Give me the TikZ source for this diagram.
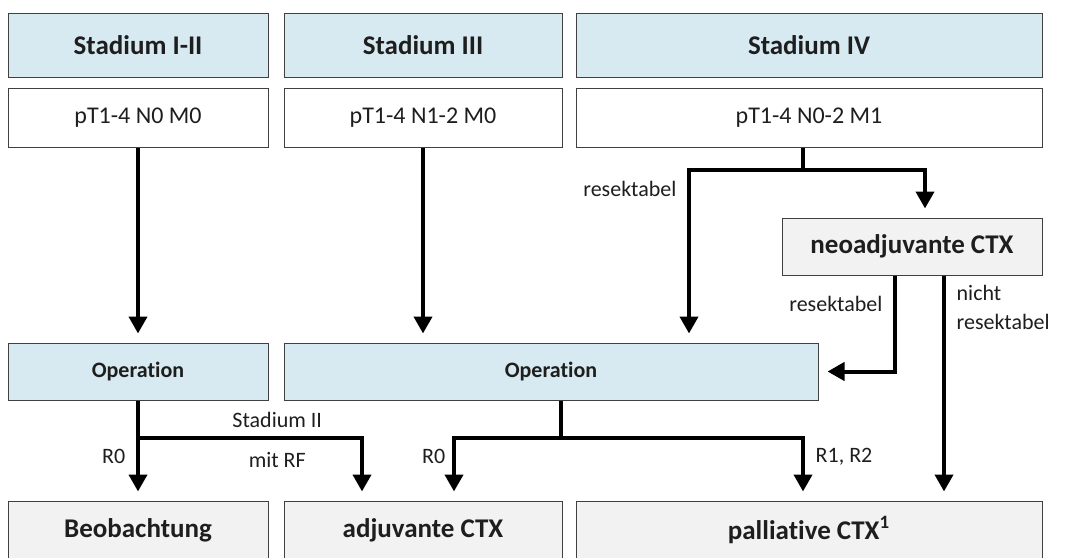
\documentclass[tikz,border=0pt]{standalone}
\usepackage{fontspec}
\setmainfont{Carlito}[Ligatures=NoCommon]
\usepackage{tikz}
\usetikzlibrary{positioning,arrows.meta,calc}

\definecolor{stageblue}{HTML}{D8EAF1}
\definecolor{therapygray}{HTML}{F2F2F2}
\definecolor{boxline}{HTML}{404040}
\definecolor{textcol}{HTML}{1E1E1E}

\tikzset{
	box/.style={draw=boxline, line width=0.5pt, align=center, text=textcol},
	stage/.style={box, fill=stageblue, minimum height=32pt, font=\fontsize{13.5}{16}\selectfont\bfseries},
	tnm/.style={box, fill=white, minimum height=29.5pt, font=\fontsize{12}{14}\selectfont},
	opbox/.style={box, fill=stageblue, minimum height=28.5pt, font=\fontsize{11}{13}\selectfont\bfseries},
	therapy/.style={box, fill=therapygray, minimum height=28.5pt, font=\fontsize{13.5}{16}\selectfont\bfseries},
	link/.style={line width=2pt},
	flow/.style={link, -{Triangle[width=9pt,length=8.5pt]}, shorten >=4.5pt},
	lbl/.style={font=\fontsize{11}{14.5}\selectfont, text=textcol}
}

\begin{document}
\begin{tikzpicture}[x=0.5pt, y=-0.5pt, on grid]
\useasboundingbox (0,0) rectangle (1068,557);
% stages
\node[stage, minimum width=130pt]		(s12)					at (138,45)			{Stadium I-II};
\node[stage, minimum width=139pt]		(s3)	[right=142.5pt of s12]				{Stadium III};
\node[stage, minimum width=233pt]		(s4)	[right=193pt of s3]					{Stadium IV};
% TNM
\node[tnm, minimum width=130pt]			(t12)	[below=36.25pt of s12]				{pT1-4 N0 M0};
\node[tnm, minimum width=139pt]			(t3)	[below=36.25pt of s3]				{pT1-4 N1-2 M0};
\node[tnm, minimum width=233pt]			(t4)	[below=36.25pt of s4]				{pT1-4 N0-2 M1};
\node[therapy, minimum width=130pt]		(neo)					at (912,246.5)		{neoadjuvante CTX};
% operations
\node[opbox, minimum width=130pt]		(op1)	[below=127pt of t12]				{Operation};
\node[opbox, minimum width=267pt]		(op2)	[right=206.5pt of op1]				{Operation};
% therapies
\node[therapy, minimum width=130pt, minimum height=29pt]	(beo)	[below=79.25pt of op1]	{Beobachtung};
\node[therapy, minimum width=139pt, minimum height=29pt]	(adj)	[right=142.5pt of beo]	{adjuvante CTX};
\node[therapy, minimum width=233pt, minimum height=29pt]	(pal)	[right=193pt of adj]	{palliative CTX\textsuperscript{1}};

\coordinate (j4) at (803,170);
\coordinate (j1) at (139,438);
\coordinate (j2) at (561,438);

\draw[flow]	(t12) -- (op1);
\draw[flow]	(t3) -- (t3 |- op2.north);
\draw[link]	(t4.south -| j4) -- (j4);
\draw[flow]	(j4) -| node[lbl, pos=.555, left=2pt] {resektabel} ($(op2.north)+(138,0)$);
\draw[flow]	(j4) -| ($(neo.north)+(13,0)$);
\draw[flow]	($(neo.south)+(-17,0)$) |- node[lbl, pos=.15, left=2pt] {resektabel} (op2.east);
\draw[flow]	($(neo.south)+(32,0)$) -- node[lbl, pos=.14, right=2pt, align=left] {nicht\\resektabel} ($(pal.north)+(135,0)$);

\draw[flow]	(op1) -- node[lbl, pos=.56, left=2pt] {R0} (beo);
\draw[flow]	(j1) -| node[lbl, pos=.31, above=1pt] {Stadium II}
					node[lbl, pos=.31, below=3pt] {mit RF} ($(adj.north)+(-61,0)$);
\draw[link]	(op2.south -| j2) -- (j2);
\draw[flow]	(j2) -| node[lbl, pos=.65, left=0pt] {R0} ($(adj.north)+(31,0)$);
\draw[flow]	(j2) -| node[lbl, pos=.65, right=2pt] {R1, R2} ($(pal.north)+(-6,0)$);
\end{tikzpicture}
\end{document}
